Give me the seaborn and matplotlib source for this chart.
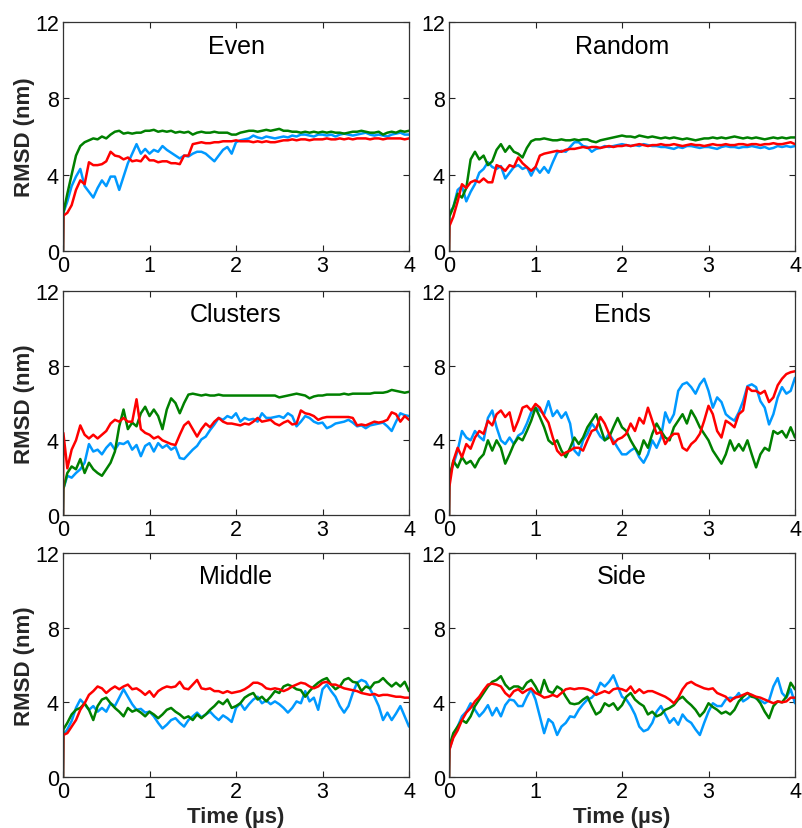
import numpy as np
import pandas as pd
import matplotlib
matplotlib.use("Agg")
import matplotlib.pyplot as plt
import seaborn as sns

# ---------------- data ----------------
panels = ["Even", "Random", "Clusters", "Ends", "Middle", "Side"]
runs = ["run1", "run2", "run3"]          # blue, green, red
run_colors = ["#0099FF", "#008000", "#FF0000"]
time_us = np.round(np.arange(81) * 0.05, 2)   # 0 .. 4 us
x_ticks = [0, 1, 2, 3, 4]
y_ticks = [0, 4, 8, 12]
start_rmsd = 0.0

even_blue = [2.0, 2.6, 3.4, 3.9, 4.3, 3.4, 3.1, 2.8, 3.3, 3.7,
             3.4, 3.9, 3.9, 3.2, 3.9, 4.6, 5.1, 5.6, 5.1, 5.35,
             5.1, 5.3, 5.2, 5.5, 5.3, 5.15, 5.0, 4.85, 5.0, 4.95,
             5.1, 5.2, 5.2, 5.1, 4.9, 4.7, 5.0, 5.3, 5.45, 5.1,
             5.7, 5.8, 5.85, 5.9, 6.05, 5.95, 5.9, 6.0, 5.95, 5.9,
             5.95, 6.0, 5.95, 6.05, 6.0, 6.1, 6.1, 6.05, 6.0, 6.1,
             6.1, 6.05, 6.1, 6.0, 6.1, 6.15, 6.1, 6.05, 6.1, 6.15,
             6.2, 6.1, 6.05, 6.1, 6.05, 6.0, 6.1, 6.15, 6.2, 6.1,
             6.1]
even_green = [2.0, 3.0, 4.0, 5.0, 5.5, 5.7, 5.8, 5.9, 5.85, 6.0,
              5.9, 6.1, 6.25, 6.3, 6.15, 6.2, 6.15, 6.2, 6.2, 6.3,
              6.3, 6.35, 6.25, 6.3, 6.25, 6.3, 6.2, 6.25, 6.2, 6.25,
              6.1, 6.2, 6.25, 6.2, 6.2, 6.25, 6.2, 6.2, 6.2, 6.1,
              6.1, 6.2, 6.25, 6.3, 6.3, 6.25, 6.3, 6.35, 6.3, 6.35,
              6.4, 6.3, 6.3, 6.25, 6.25, 6.2, 6.25, 6.2, 6.25, 6.2,
              6.25, 6.2, 6.25, 6.2, 6.2, 6.15, 6.2, 6.25, 6.25, 6.3,
              6.25, 6.2, 6.2, 6.25, 6.1, 6.2, 6.25, 6.2, 6.3, 6.25,
              6.3]
even_red = [1.85, 2.0, 2.4, 3.2, 3.7, 3.5, 4.65, 4.5, 4.5, 4.55,
            4.7, 5.2, 5.0, 4.95, 4.8, 4.9, 4.7, 4.75, 4.7, 5.0,
            4.75, 4.75, 4.65, 4.7, 4.7, 4.6, 4.6, 4.55, 5.0, 5.0,
            5.6, 5.65, 5.7, 5.65, 5.65, 5.7, 5.7, 5.75, 5.75, 5.75,
            5.8, 5.75, 5.75, 5.75, 5.7, 5.75, 5.7, 5.75, 5.7, 5.7,
            5.75, 5.8, 5.8, 5.85, 5.8, 5.85, 5.85, 5.8, 5.85, 5.85,
            5.85, 5.9, 5.85, 5.85, 5.9, 5.85, 5.9, 5.85, 5.9, 5.9,
            5.9, 5.85, 5.9, 5.9, 5.85, 5.9, 5.9, 5.9, 5.9, 5.85,
            5.9]

random_blue = [2.0, 2.3, 3.2, 3.4, 2.6, 3.1, 3.5, 4.1, 4.3, 4.65,
               4.4, 4.3, 4.45, 3.8, 4.1, 4.4, 4.5, 4.3, 4.4, 3.95,
               4.4, 4.1, 4.4, 4.1, 4.65, 5.15, 5.25, 5.2, 5.45, 5.7,
               5.7, 5.5, 5.45, 5.2, 5.35, 5.4, 5.5, 5.45, 5.5, 5.55,
               5.6, 5.55, 5.5, 5.55, 5.5, 5.6, 5.55, 5.5, 5.5, 5.45,
               5.45, 5.4, 5.35, 5.45, 5.4, 5.5, 5.5, 5.45, 5.4, 5.45,
               5.45, 5.4, 5.35, 5.45, 5.5, 5.45, 5.45, 5.4, 5.45, 5.45,
               5.5, 5.45, 5.4, 5.45, 5.35, 5.4, 5.5, 5.45, 5.5, 5.45,
               5.5]
random_green = [1.8, 2.3, 3.0, 2.8, 3.3, 4.8, 5.2, 4.8, 5.0, 4.5,
                4.7, 5.3, 5.6, 5.2, 5.5, 5.2, 5.1, 4.9, 5.4, 5.75,
                5.85, 5.85, 5.9, 5.85, 5.8, 5.8, 5.85, 5.8, 5.8, 5.85,
                5.8, 5.85, 5.85, 5.75, 5.7, 5.8, 5.85, 5.9, 5.95, 6.0,
                6.05, 6.0, 6.0, 5.95, 6.05, 6.0, 5.95, 6.0, 5.95, 5.9,
                5.95, 5.9, 5.95, 5.9, 5.85, 5.9, 5.85, 5.8, 5.85, 5.9,
                5.9, 5.95, 5.9, 5.95, 5.9, 5.95, 6.0, 5.95, 5.9, 5.95,
                5.9, 5.95, 5.9, 5.85, 5.9, 5.95, 5.9, 5.95, 5.9, 5.95,
                5.95]
random_red = [1.3, 1.8, 2.6, 3.5, 3.3, 3.6, 3.7, 3.6, 3.8, 3.6,
              3.6, 4.5, 4.4, 4.2, 4.5, 4.4, 4.9, 4.6, 4.4, 4.2,
              4.4, 5.0, 5.1, 5.15, 5.2, 5.25, 5.2, 5.3, 5.35, 5.35,
              5.4, 5.45, 5.4, 5.45, 5.45, 5.4, 5.45, 5.5, 5.45, 5.5,
              5.5, 5.55, 5.5, 5.55, 5.6, 5.55, 5.5, 5.55, 5.55, 5.6,
              5.55, 5.55, 5.6, 5.55, 5.5, 5.55, 5.6, 5.55, 5.55, 5.5,
              5.55, 5.6, 5.55, 5.55, 5.6, 5.55, 5.55, 5.6, 5.6, 5.55,
              5.6, 5.6, 5.55, 5.6, 5.6, 5.65, 5.6, 5.6, 5.65, 5.7,
              5.6]

clusters_blue = [1.4, 2.1, 2.0, 2.25, 2.45, 2.8, 3.8, 3.4, 3.5, 3.25,
                 3.6, 3.85, 3.5, 3.85, 3.8, 3.95, 3.5, 3.75, 3.15, 3.7,
                 3.85, 3.4, 3.85, 3.6, 3.75, 3.5, 3.65, 3.05, 3.0, 3.25,
                 3.5, 3.7, 4.05, 4.2, 4.55, 4.85, 5.2, 5.1, 5.3, 5.2,
                 5.45, 5.0, 5.2, 5.1, 5.15, 5.0, 5.45, 5.2, 5.2, 5.25,
                 5.3, 5.2, 5.45, 5.3, 4.75, 5.0, 5.3, 5.2, 5.0, 4.9,
                 4.95, 4.65, 4.75, 4.9, 4.95, 5.0, 5.1, 4.95, 4.75, 4.8,
                 4.65, 4.8, 4.85, 4.9, 4.95, 4.75, 4.5, 5.0, 5.45, 5.35,
                 5.3]
clusters_green = [1.4, 2.25, 2.6, 2.45, 3.0, 2.25, 2.8, 2.45, 2.25, 2.1,
                  2.45, 2.8, 3.4, 4.75, 5.65, 4.6, 4.95, 4.75, 5.45, 5.8,
                  5.3, 5.65, 5.3, 4.6, 5.65, 6.25, 6.0, 5.45, 6.0, 6.45,
                  6.5, 6.45, 6.4, 6.45, 6.4, 6.4, 6.45, 6.4, 6.4, 6.4,
                  6.4, 6.4, 6.4, 6.4, 6.4, 6.4, 6.4, 6.4, 6.4, 6.4,
                  6.3, 6.35, 6.4, 6.45, 6.5, 6.45, 6.4, 6.25, 6.35, 6.4,
                  6.4, 6.45, 6.45, 6.45, 6.45, 6.5, 6.45, 6.5, 6.5, 6.5,
                  6.5, 6.5, 6.55, 6.55, 6.55, 6.6, 6.7, 6.65, 6.6, 6.55,
                  6.6]
clusters_red = [4.4, 2.5, 3.5, 4.0, 4.8, 4.3, 4.1, 4.3, 4.1, 4.3,
                4.5, 4.9, 5.1, 5.0, 5.2, 5.0, 5.0, 6.2, 4.6, 4.4,
                4.3, 4.1, 4.2, 4.0, 3.9, 3.8, 3.75, 4.3, 4.8, 5.0,
                4.6, 4.2, 4.6, 4.9, 4.7, 5.0, 5.2, 5.0, 4.9, 4.9,
                4.85, 4.8, 4.9, 4.85, 5.0, 5.2, 5.0, 5.05, 5.1, 4.9,
                4.8, 4.95, 5.05, 4.85, 4.9, 5.6, 5.45, 5.4, 5.3, 5.1,
                5.2, 5.25, 5.25, 5.25, 5.25, 5.25, 5.25, 5.2, 4.8, 4.85,
                4.8, 4.9, 5.0, 4.95, 5.0, 5.1, 5.5, 5.4, 5.0, 5.3,
                5.1]

ends_blue = [2.2, 2.7, 3.45, 4.5, 4.15, 4.0, 4.5, 4.2, 4.0, 5.2,
             5.6, 4.7, 4.0, 3.8, 4.15, 3.8, 4.25, 4.4, 4.9, 5.5,
             5.75, 5.6, 5.4, 6.1, 5.3, 5.6, 5.2, 5.5, 4.9, 3.45,
             3.2, 4.0, 4.35, 4.9, 4.6, 4.2, 4.0, 4.35, 4.0, 3.6,
             3.25, 3.25, 3.45, 3.6, 3.1, 2.8, 3.25, 4.0, 3.6, 4.15,
             5.5, 4.95, 5.4, 6.65, 7.0, 7.1, 6.85, 6.5, 7.0, 7.3,
             6.65, 5.75, 6.3, 6.05, 5.4, 5.2, 5.05, 5.5, 6.1, 6.9,
             7.0, 6.85, 6.1, 5.75, 4.85, 5.4, 6.3, 6.85, 6.5, 6.65,
             7.35]
ends_green = [2.0, 2.9, 2.55, 3.1, 2.75, 2.9, 2.55, 3.0, 3.25, 4.0,
              3.45, 4.0, 3.6, 2.75, 3.25, 3.8, 4.15, 4.0, 4.5, 5.05,
              5.75, 5.25, 4.7, 4.0, 3.8, 4.0, 3.45, 3.1, 3.6, 4.15,
              3.8, 4.15, 4.7, 5.05, 5.4, 4.7, 4.0, 4.15, 4.7, 5.2,
              4.7, 4.5, 4.0, 3.6, 3.25, 4.0, 3.6, 4.35, 4.9, 4.5,
              4.15, 4.0, 4.7, 5.05, 5.4, 4.9, 5.6, 5.2, 4.7, 4.35,
              4.0, 3.45, 3.1, 2.75, 3.25, 4.0, 3.45, 3.8, 3.45, 4.0,
              3.25, 2.55, 3.25, 3.6, 3.45, 4.5, 4.35, 4.5, 4.15, 4.7,
              4.15]
ends_red = [1.5, 2.9, 3.6, 3.1, 3.8, 3.55, 4.15, 4.5, 4.35, 5.05,
            4.8, 5.4, 5.6, 5.25, 5.5, 4.5, 5.05, 5.75, 5.85, 5.6,
            5.95, 5.75, 5.3, 4.95, 4.15, 3.45, 3.2, 3.35, 3.45, 3.6,
            3.6, 3.45, 4.0, 4.5, 4.6, 5.25, 4.9, 4.35, 3.8, 4.05,
            4.15, 4.35, 4.9, 4.5, 5.2, 4.9, 5.75, 5.05, 4.35, 4.45,
            3.8, 4.15, 4.35, 4.35, 3.6, 3.45, 3.8, 4.0, 4.35, 5.05,
            5.85, 5.4, 4.5, 4.15, 5.05, 4.9, 4.7, 5.4, 5.6, 6.85,
            6.65, 6.65, 6.5, 6.65, 6.05, 6.3, 6.95, 7.3, 7.55, 7.65,
            7.7]

middle_blue = [2.25, 2.55, 3.0, 3.7, 4.15, 3.9, 3.6, 3.8, 3.5, 3.7,
               3.5, 3.95, 3.8, 4.25, 4.7, 4.3, 3.9, 3.6, 3.65, 3.45,
               3.5, 3.25, 2.9, 2.6, 2.8, 3.05, 3.15, 2.9, 2.7, 3.05,
               3.25, 3.45, 3.2, 3.35, 3.5, 3.25, 3.05, 3.3, 3.15, 2.95,
               3.7, 3.95, 3.6, 3.9, 4.15, 4.3, 3.95, 4.1, 3.9, 4.05,
               3.9, 3.7, 3.45, 3.7, 4.05, 3.95, 4.6, 4.05, 4.25, 3.6,
               4.7, 4.95, 4.6, 4.3, 3.8, 3.45, 3.8, 4.5, 5.05, 5.2,
               5.1, 4.7, 4.3, 3.8, 3.05, 3.45, 3.05, 3.4, 3.8, 3.25,
               2.7]
middle_green = [2.55, 2.9, 3.35, 3.6, 3.7, 3.95, 3.6, 3.05, 3.8, 4.15,
                4.25, 3.95, 3.7, 3.5, 3.25, 3.7, 3.5, 3.6, 3.45, 3.25,
                3.5, 3.35, 3.15, 3.35, 3.6, 3.7, 3.5, 3.35, 3.15, 3.25,
                3.05, 3.35, 3.15, 3.35, 3.6, 3.8, 4.05, 3.9, 4.15, 3.7,
                3.8, 3.95, 4.25, 4.4, 4.5, 4.15, 4.3, 4.05, 4.3, 4.6,
                4.5, 4.85, 4.95, 4.85, 4.7, 4.65, 4.3, 4.6, 4.85, 5.05,
                5.2, 5.3, 4.95, 4.7, 4.85, 5.2, 5.3, 5.1, 5.05, 4.6,
                4.85, 4.75, 5.05, 5.1, 5.3, 5.05, 4.85, 5.05, 4.85, 5.1,
                4.6]
middle_red = [2.25, 2.35, 2.7, 3.05, 3.6, 3.95, 4.4, 4.6, 4.85, 4.75,
              4.5, 4.7, 4.85, 4.7, 4.85, 4.95, 4.7, 4.75, 4.6, 4.4,
              4.6, 4.3, 4.6, 4.75, 4.85, 4.8, 4.85, 5.1, 4.75, 4.7,
              4.95, 5.2, 4.75, 4.7, 4.75, 4.6, 4.6, 4.5, 4.6, 4.5,
              4.55, 4.6, 4.7, 4.85, 5.05, 5.05, 4.95, 4.75, 4.7, 4.75,
              4.7, 4.6, 4.7, 4.85, 4.95, 5.05, 5.0, 4.85, 4.75, 4.85,
              5.05, 5.1, 4.95, 4.95, 4.85, 4.75, 4.7, 4.65, 4.6, 4.5,
              4.45, 4.4, 4.45, 4.35, 4.4, 4.4, 4.35, 4.3, 4.3, 4.25,
              4.25]

side_blue = [1.45, 2.2, 2.7, 3.25, 3.5, 3.95, 3.6, 3.25, 3.5, 3.85,
             3.3, 3.7, 3.25, 3.85, 4.15, 4.1, 3.8, 3.8, 4.3, 4.7,
             4.15, 3.25, 2.35, 3.1, 2.9, 2.25, 2.7, 2.9, 3.25, 3.2,
             3.6, 3.9, 4.15, 4.25, 4.5, 5.05, 4.85, 5.1, 5.45, 4.85,
             4.3, 4.15, 3.8, 3.35, 2.7, 2.45, 2.55, 2.9, 3.5, 3.8,
             3.35, 2.9, 3.15, 2.8, 3.35, 3.05, 2.9, 2.55, 2.25, 2.9,
             3.5, 3.95, 3.8, 3.8, 4.15, 4.25, 4.2, 4.5, 4.05, 4.2,
             4.4, 4.2, 4.1, 3.95, 4.1, 4.85, 5.3, 4.5, 4.25, 4.7,
             3.95]
side_green = [1.65, 2.35, 2.7, 3.05, 2.9, 3.25, 3.8, 4.15, 4.5, 4.85,
              5.1, 5.2, 5.4, 4.95, 4.7, 4.85, 4.85, 4.7, 5.05, 5.2,
              4.85, 4.4, 5.2, 4.6, 4.5, 4.85, 4.7, 4.3, 3.95, 3.9,
              3.95, 4.15, 4.3, 3.8, 3.35, 3.5, 3.95, 3.8, 3.95, 3.6,
              3.85, 4.3, 4.5, 4.15, 3.95, 3.8, 3.35, 3.5, 3.25, 3.35,
              3.6, 3.7, 3.85, 4.15, 4.3, 4.05, 3.85, 3.6, 3.25, 3.5,
              3.95, 3.75, 3.6, 3.4, 3.5, 3.35, 3.6, 4.05, 4.3, 4.5,
              4.3, 4.25, 3.95, 3.5, 3.15, 3.8, 4.05, 4.0, 4.3, 5.05,
              4.7]
side_red = [1.45, 2.1, 2.5, 3.05, 3.45, 3.7, 4.05, 4.3, 4.65, 4.95,
            5.0, 4.95, 4.85, 4.5, 4.3, 4.6, 4.7, 4.5, 4.65, 4.75,
            4.5, 4.4, 4.25, 4.3, 4.4, 4.3, 4.5, 4.7, 4.75, 4.7,
            4.75, 4.75, 4.7, 4.6, 4.4, 4.5, 4.6, 4.5, 4.7, 4.75,
            4.7, 4.6, 4.85, 4.5, 4.7, 4.5, 4.6, 4.6, 4.5, 4.4,
            4.3, 4.15, 3.95, 4.25, 4.7, 5.0, 5.1, 4.95, 4.85, 4.75,
            4.7, 4.75, 4.5, 4.4, 4.3, 4.05, 4.25, 4.3, 4.4, 4.5,
            4.4, 4.3, 4.25, 4.15, 4.05, 3.95, 4.05, 4.0, 4.05, 4.25,
            4.25]

panel_series = {
    "Even": [even_blue, even_green, even_red],
    "Random": [random_blue, random_green, random_red],
    "Clusters": [clusters_blue, clusters_green, clusters_red],
    "Ends": [ends_blue, ends_green, ends_red],
    "Middle": [middle_blue, middle_green, middle_red],
    "Side": [side_blue, side_green, side_red],
}

# ---------------- figure ----------------
sns.set_theme(style="ticks")
plt.rcParams["font.family"] = ["Liberation Sans", "DejaVu Sans"]

fig = plt.figure(figsize=(8.02, 8.29), dpi=100)
col_left = [63 / 802, 449 / 802]
width = 346 / 802
rows = [(1 - 252 / 829, 229 / 829), (1 - 516 / 829, 224 / 829), (1 - 778 / 829, 224 / 829)]

# time axis with the t=0 start point at RMSD 0
t_full = np.concatenate([[0.0], time_us + np.where(time_us == 0, 0.004, 0.0)])

for i, name in enumerate(panels):
    r, c = divmod(i, 2)
    bottom, height = rows[r]
    ax = fig.add_axes([col_left[c], bottom, width, height])
    frames = []
    for run, vals in zip(runs, panel_series[name]):
        frames.append(pd.DataFrame({"time": t_full,
                                    "rmsd": np.concatenate([[start_rmsd], vals]),
                                    "run": run}))
    df = pd.concat(frames, ignore_index=True)
    sns.lineplot(data=df, x="time", y="rmsd", hue="run", hue_order=runs,
                 palette=run_colors, estimator=None, sort=False, legend=False,
                 lw=1.8, ax=ax)
    ax.set_xlim(0, 4)
    ax.set_ylim(0, 12)
    ax.set_xticks(x_ticks)
    ax.set_yticks(y_ticks)
    ax.tick_params(direction="in", top=True, right=True, length=4, width=0.8,
                   labelsize=15.5, pad=3, colors="#222222", labelcolor="black")
    for sp in ax.spines.values():
        sp.set_visible(True)
        sp.set_linewidth(0.9)
        sp.set_color("#333333")
    ax.text(0.5, 0.865, name, transform=ax.transAxes, ha="center",
            va="baseline", fontsize=18, color="black")
    if c == 0:
        ax.set_ylabel("RMSD (nm)", fontsize=16, fontweight="bold", labelpad=0)
    else:
        ax.set_ylabel("")
    if r == 2:
        ax.set_xlabel("Time (µs)", fontsize=16, fontweight="bold", labelpad=3)
    else:
        ax.set_xlabel("")

fig.savefig("out.png", dpi=100)
